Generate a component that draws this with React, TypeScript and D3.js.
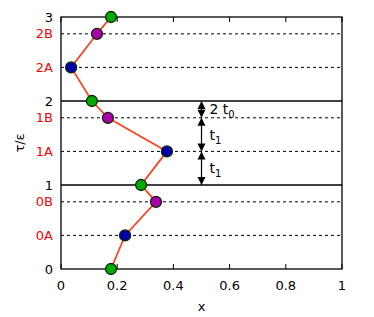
import React, { useRef, useEffect } from 'react';
import * as d3 from 'd3';

const yTicks = [0, 0.4, 0.8, 1, 1.4, 1.8, 2, 2.4, 2.8, 3];
const yTickLabels = ['0', '0A', '0B', '1', '1A', '1B', '2', '2A', '2B', '3'];
const xTicks = [0, 0.2, 0.4, 0.6, 0.8, 1];
const xTickLabels = ['0', '0.2', '0.4', '0.6', '0.8', '1'];
const pointX = [0.178, 0.228, 0.338, 0.285, 0.377, 0.167, 0.11, 0.036, 0.128, 0.178];
const pointY = [0, 0.4, 0.8, 1, 1.4, 1.8, 2, 2.4, 2.8, 3];
const pointColors = ['#00aa00', '#0000aa', '#aa00aa', '#00aa00', '#0000aa', '#aa00aa', '#00aa00', '#0000aa', '#aa00aa', '#00aa00'];
const arrowFrom = [2, 1.8, 1.4];
const arrowTo = [1.8, 1.4, 1];
const arrowLabels = [['2 t', '0'], ['t', '1'], ['t', '1']];

const Chart = () => {
  const ref = useRef(null);

  useEffect(() => {
    if (!ref.current) return;
    d3.select(ref.current).select('svg').remove();
    const width = 374, height = 317;
    const m = { left: 61, right: 32, top: 17, bottom: 48 };
    const svg = d3.select(ref.current).append('svg')
      .attr('width', width).attr('height', height)
      .style('display', 'block')
      .style('font-family', 'DejaVu Sans, sans-serif');

    const x = d3.scaleLinear().domain([0, 1]).range([m.left, width - m.right]);
    const y = d3.scaleLinear().domain([0, 3]).range([height - m.bottom, m.top]);

    // horizontal lines
    yTicks.forEach((t, i) => {
      if (t === 0 || t === 3) return;
      const solid = yTickLabels[i].length === 1;
      svg.append('line')
        .attr('x1', x(0)).attr('x2', x(1))
        .attr('y1', y(t)).attr('y2', y(t))
        .attr('stroke', '#000')
        .attr('stroke-width', solid ? 1.3 : 1)
        .attr('stroke-dasharray', solid ? null : '3,3');
    });

    // x ticks (inward, top and bottom)
    xTicks.forEach((t, i) => {
      svg.append('line').attr('x1', x(t)).attr('x2', x(t))
        .attr('y1', y(0)).attr('y2', y(0) - 5).attr('stroke', '#000');
      svg.append('line').attr('x1', x(t)).attr('x2', x(t))
        .attr('y1', y(3)).attr('y2', y(3) + 5).attr('stroke', '#000');
      svg.append('text').attr('x', x(t)).attr('y', y(0) + 21)
        .attr('text-anchor', 'middle').attr('font-size', 13)
        .text(xTickLabels[i]);
    });

    // y tick labels
    yTicks.forEach((t, i) => {
      const lab = yTickLabels[i];
      svg.append('text').attr('x', x(0) - 8).attr('y', y(t))
        .attr('dy', '0.35em').attr('text-anchor', 'end').attr('font-size', 13)
        .attr('fill', lab.length > 1 ? '#ff0000' : '#000')
        .text(lab);
    });

    // frame
    svg.append('rect')
      .attr('x', x(0)).attr('y', y(3))
      .attr('width', x(1) - x(0)).attr('height', y(0) - y(3))
      .attr('fill', 'none').attr('stroke', '#000').attr('stroke-width', 1.3);

    // arrows
    const ax = x(0.5);
    const head = (yy: number, dir: number) => {
      // dir = -1 points up, +1 points down
      svg.append('path')
        .attr('d', `M${ax},${yy} L${ax - 4},${yy - dir * 8} L${ax + 4},${yy - dir * 8} Z`)
        .attr('fill', '#000');
    };
    arrowFrom.forEach((a, i) => {
      const b = arrowTo[i];
      svg.append('line').attr('x1', ax).attr('x2', ax)
        .attr('y1', y(a)).attr('y2', y(b)).attr('stroke', '#000').attr('stroke-width', 1.2);
      head(y(a), -1);
      head(y(b), 1);
      const lab = svg.append('text')
        .attr('x', ax + 8).attr('y', (y(a) + y(b)) / 2 + 5)
        .attr('font-size', 14);
      lab.append('tspan').text(arrowLabels[i][0]);
      lab.append('tspan').attr('font-size', 10).attr('dy', 4).text(arrowLabels[i][1]);
    });

    // line
    const pts = pointX.map((v, i) => [v, pointY[i]] as [number, number]);
    svg.append('path')
      .attr('d', d3.line().x(d => x(d[0])).y(d => y(d[1]))(pts))
      .attr('fill', 'none').attr('stroke', '#ff4422').attr('stroke-width', 1.8);

    svg.selectAll('circle.pt').data(pts).enter().append('circle')
      .attr('class', 'pt')
      .attr('cx', d => x(d[0])).attr('cy', d => y(d[1])).attr('r', 5.5)
      .attr('fill', (d, i) => pointColors[i])
      .attr('stroke', '#0d2a0d').attr('stroke-width', 1.3);

    // axis labels
    svg.append('text').attr('x', x(0.5)).attr('y', height - 6)
      .attr('text-anchor', 'middle').attr('font-size', 13).text('x');
    svg.append('text')
      .attr('transform', `translate(24,${y(1.5)}) rotate(-90)`)
      .attr('text-anchor', 'middle').attr('font-size', 13).text('τ/ε');
  }, []);

  return <div ref={ref} style={{ position: 'absolute', left: 0, top: 0 }}></div>;
};

export default function App() {
  return <Chart />;
}
